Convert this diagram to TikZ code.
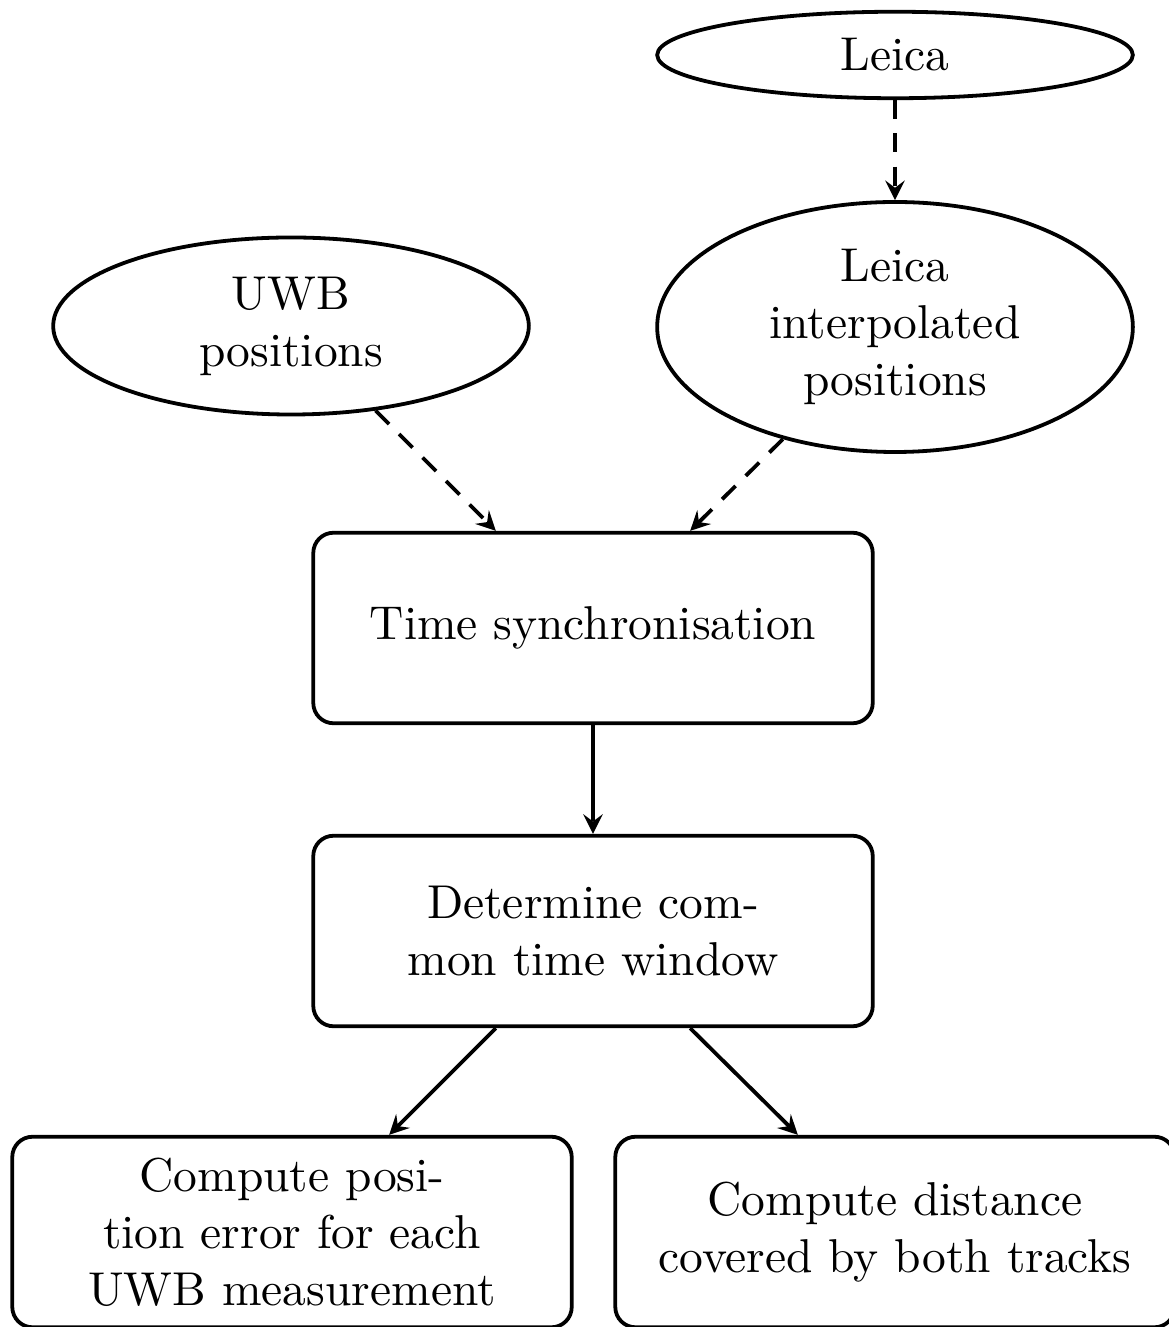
\documentclass[tikz,border=0pt]{standalone}
\usetikzlibrary{shapes.geometric}
\begin{document}
\begin{tikzpicture}[
    x=0.0074cm, y=-0.0074cm,
    >=stealth,
    src/.style={
        draw, thick,
        ellipse,
        inner sep=0pt,
        minimum width=3.52cm,
        align=center
    },
    stage/.style={
        draw, thick,
        rounded corners=1.5mm,
        minimum width=4.14cm,
        minimum height=1.41cm,
        text width=3.8cm,
        align=center
    },
    flow/.style={
        ->,
        thick
    },
    feed/.style={
        flow,
        dash pattern=on 4pt off 3pt
    }
]
    \useasboundingbox (0,0) rectangle (1168,1327);

    \node[src, minimum height=0.64cm] (leica) at (895,55) {Leica};
    \node[src, minimum height=1.85cm] (interp) at (895,327)
        {Leica\\interpolated\\positions};
    \node[src, minimum height=1.31cm] (uwb) at (291,326)
        {UWB\\positions};

    \node[stage] (sync) at (593,628) {Time synchronisation};
    \node[stage] (window) at (593,931) {Determine com-\\mon time window};
    \node[stage] (poserr) at (292,1232)
        {Compute posi-\\tion error for each\\UWB measurement};
    \node[stage] (dist) at (895,1232)
        {Compute distance\\covered by both tracks};

    \draw[feed] (leica) -- (interp);
    \draw[feed] (uwb.-45) -- (sync.135);
    \draw[feed] (interp.-135) -- (sync.45);
    \draw[flow] (sync) -- (window);
    \draw[flow] (window.-135) -- (poserr.45);
    \draw[flow] (window.-45) -- (dist.135);
\end{tikzpicture}
\end{document}
